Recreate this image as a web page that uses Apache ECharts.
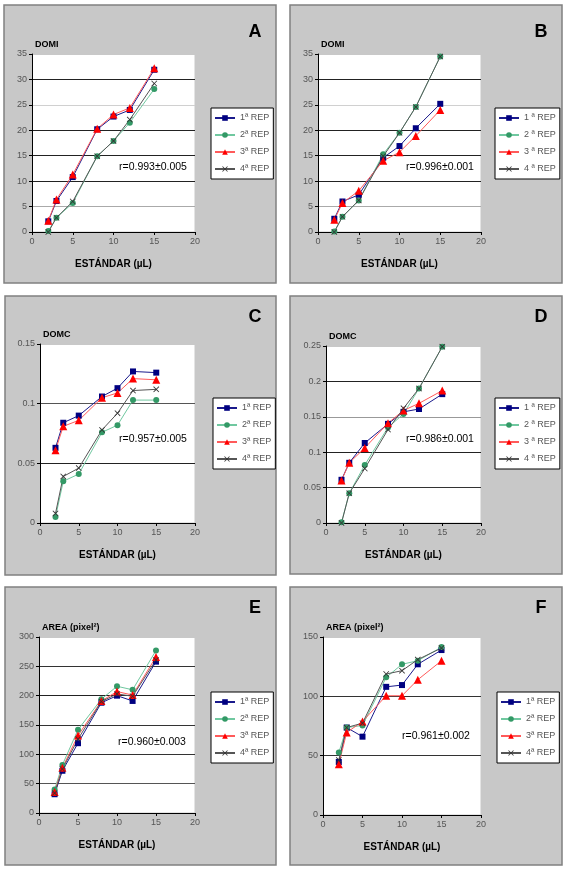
<!DOCTYPE html>
<html><head><meta charset="utf-8">
<script src="https://cdn.jsdelivr.net/npm/echarts@6/dist/echarts.min.js"></script>
<style>html,body{margin:0;padding:0;background:#fff}#c{width:567px;height:876px}</style>
</head><body><div id="c"></div>
<script>
// ---- data ----
const xVals = [2, 3, 5, 8, 10, 12, 15];
const repNames = ['1ª REP', '2ª REP', '3ª REP', '4ª REP'];
const repNamesSpaced = ['1 ª REP', '2 ª REP', '3 ª REP', '4 ª REP'];
const panelLetters = ['A', 'B', 'C', 'D', 'E', 'F'];
const yTitles = ['DOMI', 'DOMI', 'DOMC', 'DOMC', 'AREA (pixel²)', 'AREA (pixel²)'];
const rTexts = ['r=0.993±0.005', 'r=0.996±0.001', 'r=0.957±0.005', 'r=0.986±0.001', 'r=0.960±0.003', 'r=0.961±0.002'];
const xTitle = 'ESTÁNDAR (µL)';
const yMaxes = [35, 35, 0.15, 0.25, 300, 150];
const ySteps = [5, 5, 0.05, 0.05, 50, 50];

const aRep1 = [2.1, 6.1, 10.8, 20.2, 22.7, 24.0, 31.9];
const aRep2 = [0.2, 2.8, 5.7, 14.9, 17.9, 21.5, 28.1];
const aRep3 = [2.2, 6.4, 11.3, 20.3, 23.1, 24.4, 32.2];
const aRep4 = [0.0, 2.8, 6.0, 14.9, 17.9, 22.1, 29.2];

const bRep1 = [2.6, 6.0, 7.3, 14.6, 16.9, 20.4, 25.2];
const bRep2 = [0.1, 3.0, 6.2, 15.3, 19.5, 24.6, 34.5];
const bRep3 = [2.4, 5.7, 8.1, 14.0, 15.7, 18.9, 24.0];
const bRep4 = [0.0, 3.0, 6.2, 14.9, 19.5, 24.6, 34.5];

const cRep1 = [0.063, 0.084, 0.090, 0.106, 0.113, 0.127, 0.126];
const cRep2 = [0.005, 0.035, 0.041, 0.076, 0.082, 0.103, 0.103];
const cRep3 = [0.061, 0.081, 0.086, 0.105, 0.109, 0.121, 0.120];
const cRep4 = [0.008, 0.039, 0.046, 0.078, 0.092, 0.111, 0.112];

const dRep1 = [0.061, 0.085, 0.113, 0.140, 0.157, 0.161, 0.182];
const dRep2 = [0.001, 0.042, 0.082, 0.135, 0.154, 0.190, 0.249];
const dRep3 = [0.060, 0.085, 0.106, 0.141, 0.159, 0.169, 0.187];
const dRep4 = [0.000, 0.042, 0.077, 0.132, 0.162, 0.190, 0.249];

const eRep1 = [32, 72, 119, 188, 200, 191, 258];
const eRep2 = [40, 82, 142, 194, 216, 210, 277];
const eRep3 = [36, 77, 132, 191, 207, 201, 266];
const eRep4 = [34, 75, 126, 190, 203, 199, 261];

const fRep1 = [44.7, 73.7, 66, 108, 109.5, 127, 139];
const fRep2 = [52.6, 73.7, 75.4, 116, 127, 130, 141.5];
const fRep3 = [42.8, 69.5, 78.8, 100.5, 100.5, 114, 130];
const fRep4 = [46.4, 73.7, 77.4, 118.8, 121.6, 131, 140.7];

const panelData = [
  [aRep1, aRep2, aRep3, aRep4],
  [bRep1, bRep2, bRep3, bRep4],
  [cRep1, cRep2, cRep3, cRep4],
  [dRep1, dRep2, dRep3, dRep4],
  [eRep1, eRep2, eRep3, eRep4],
  [fRep1, fRep2, fRep3, fRep4]
];

// ---- layout / style ----
const layout = [
  {box: [4, 5, 272, 278], grid: {left: 32, top: 54, width: 163, height: 178}, legend: {left: 211, top: 108}, letter: [255, 32], r: [119, 167]},
  {box: [290, 5, 272, 278], grid: {left: 318, top: 54, width: 163, height: 178}, legend: {left: 495, top: 108}, letter: [541, 32], r: [406, 167]},
  {box: [5, 296, 271, 279], grid: {left: 40, top: 344, width: 155, height: 179}, legend: {left: 213, top: 398}, letter: [255, 317], r: [119, 439]},
  {box: [290, 296, 272, 278], grid: {left: 326, top: 346, width: 155, height: 177}, legend: {left: 495, top: 398}, letter: [541, 317], r: [406, 439]},
  {box: [5, 587, 271, 278], grid: {left: 39, top: 637, width: 156, height: 176}, legend: {left: 211, top: 692}, letter: [255, 608], r: [118, 742]},
  {box: [290, 587, 272, 278], grid: {left: 323, top: 637, width: 158, height: 178}, legend: {left: 497, top: 692}, letter: [541, 608], r: [402, 736]}
];
const splitColors = [
  ['#000', '#aaa', '#222', '#222', '#222', '#d0d0d0', '#222', '#c8c8c8'],
  ['#000', '#aaa', '#222', '#222', '#222', '#d0d0d0', '#222', '#c8c8c8'],
  ['#000', '#222', '#555', '#c8c8c8'],
  ['#000', '#333', '#222', '#999', '#222', '#c8c8c8'],
  ['#000', '#555', '#333', '#333', '#222', '#333', '#c8c8c8'],
  ['#000', '#333', '#333', '#c8c8c8']
];
const xMark = 'path://M0,1L1,0L5,4L9,0L10,1L6,5L10,9L9,10L5,6L1,10L0,9L4,5Z';
const repStyles = [
  {symbol: 'rect', size: 6, mark: '#000080', line: '#1a1a8c'},
  {symbol: 'circle', size: 6, mark: '#339966', line: '#70c8a0'},
  {symbol: 'triangle', size: 8, mark: '#ff0000', line: '#ff5a5a'},
  {symbol: xMark, size: 6, mark: '#333', line: '#555'}
];
const FONT = '"Liberation Sans", Arial, sans-serif';

const grids = [], xAxes = [], yAxes = [], series = [], legends = [], graphics = [];
layout.forEach((L, i) => {
  const names = (i === 1 || i === 3) ? repNamesSpaced : repNames;
  grids.push(Object.assign({show: true, backgroundColor: '#fff', borderColor: '#c8c8c8', borderWidth: 1}, L.grid));
  xAxes.push({
    type: 'value', gridIndex: i, min: 0, max: 20, interval: 5,
    name: xTitle, nameLocation: 'middle', nameGap: 27,
    nameTextStyle: {fontFamily: FONT, fontWeight: 'bold', fontSize: 10, color: '#000'},
    axisLine: {show: true, lineStyle: {color: '#000', width: 1}},
    axisTick: {show: true, length: 3, lineStyle: {color: '#000'}},
    axisLabel: {fontFamily: FONT, fontSize: 9, color: '#555', margin: 5},
    splitLine: {show: false}
  });
  yAxes.push({
    type: 'value', gridIndex: i, min: 0, max: yMaxes[i], interval: ySteps[i],
    name: yTitles[i], nameLocation: 'end', nameGap: 5,
    nameTextStyle: {fontFamily: FONT, fontWeight: 'bold', fontSize: 9, color: '#000', align: 'left', padding: [0, 0, 0, 3]},
    axisLine: {show: true, lineStyle: {color: '#000', width: 1}},
    axisTick: {show: true, length: 3, lineStyle: {color: '#000'}},
    axisLabel: {fontFamily: FONT, fontSize: 9, color: '#555', margin: 5},
    splitLine: {show: true, lineStyle: {color: splitColors[i], width: 1}}
  });
  panelData[i].forEach((vals, k) => {
    const st = repStyles[k];
    series.push({
      type: 'line', name: names[k], xAxisIndex: i, yAxisIndex: i,
      data: xVals.map((x, j) => [x, vals[j]]),
      symbol: st.symbol, symbolSize: st.size, showSymbol: true,
      itemStyle: {color: st.mark},
      lineStyle: {color: st.line, width: 1},
      animation: false, silent: true
    });
  });
  legends.push({
    data: names, orient: 'vertical', left: L.legend.left, top: L.legend.top,
    backgroundColor: '#fff', borderColor: '#000', borderWidth: 1,
    padding: [5, 4, 5, 3], itemGap: 7, itemWidth: 20, itemHeight: 7,
    textStyle: {fontFamily: FONT, fontSize: 9, color: '#555', lineHeight: 10},
    selectedMode: false
  });
  graphics.push({
    type: 'rect', z: -10, shape: {x: L.box[0], y: L.box[1], width: L.box[2], height: L.box[3]},
    style: {fill: '#c8c8c8', stroke: '#808080', lineWidth: 1.5}
  });
  graphics.push({
    type: 'text', z: 100, x: L.letter[0], y: L.letter[1],
    style: {text: panelLetters[i], font: 'bold 18px ' + FONT, fill: '#000', textAlign: 'center', textVerticalAlign: 'middle'}
  });
  graphics.push({
    type: 'text', z: 100, x: L.r[0], y: L.r[1],
    style: {text: rTexts[i], font: '10.5px ' + FONT, fill: '#000', textAlign: 'left', textVerticalAlign: 'middle'}
  });
});

const chart = echarts.init(document.getElementById('c'), null, {renderer: 'canvas'});
chart.setOption({
  backgroundColor: '#fff',
  animation: false,
  grid: grids, xAxis: xAxes, yAxis: yAxes, series: series, legend: legends, graphic: graphics
});
</script>
</body></html>
